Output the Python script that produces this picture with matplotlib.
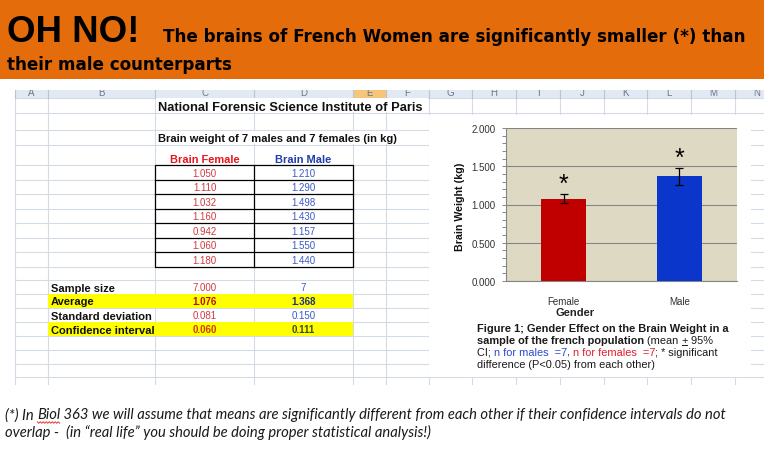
import matplotlib
matplotlib.use('Agg')
import matplotlib.pyplot as plt
from matplotlib.patches import Rectangle
from matplotlib.ticker import MultipleLocator
import numpy as np

plt.rcParams['font.family'] = ['Liberation Sans', 'DejaVu Sans']

# ---------------- data ----------------
headline_big = "OH NO!"
headline_1 = "The brains of French Women are significantly smaller (*) than"
headline_2 = "their male counterparts"
institute = "National Forensic Science Institute of Paris"
table_title = "Brain weight of 7 males and 7 females (in kg)"
col_names = ["Brain Female", "Brain Male"]
brain_female = [1.050, 1.110, 1.032, 1.160, 0.942, 1.060, 1.180]
brain_male = [1.210, 1.290, 1.498, 1.430, 1.157, 1.550, 1.440]
stat_labels = ["Sample size", "Average", "Standard deviation", "Confidence interval"]
stat_female = ["7.000", "1.076", "0.081", "0.060"]
stat_male = ["7", "1.368", "0.150", "0.111"]
categories = ["Female", "Male"]
means = [1.076, 1.368]
conf_int = [0.060, 0.111]
yticks = [0.0, 0.5, 1.0, 1.5, 2.0]
col_letters = list("ABCDEFGHIJKLMN")
footer_1 = ["(*) In ", "Biol", " 363 we will assume that means are significantly different from each other if their confidence intervals do not"]
footer_2 = "overlap -  (in \u201creal life\u201d you should be doing proper statistical analysis!)"

# ---------------- canvas ----------------
W, H = 764, 452
PX = 100 / 72.0
fig = plt.figure(figsize=(W / 100, H / 100), dpi=100)
fig.patch.set_facecolor('white')
bg = fig.add_axes([0, 0, 1, 1])
bg.set_xlim(0, W)
bg.set_ylim(H, 0)
bg.axis('off')
R = fig.canvas.get_renderer()


def tw(s, fs, **kw):
    t = bg.text(0, 100, s, fontsize=fs, **kw)
    w = t.get_window_extent(renderer=R).width
    t.remove()
    return w


def adv(s, fs, **kw):
    return tw(s + '|', fs, **kw) - tw('|', fs, **kw)


def fit_fs(s, width, **kw):
    return 10.0 * width / tw(s, 10, **kw)


def put(x, y, s, fs, **kw):
    kw.setdefault('zorder', 8)
    return bg.text(x, y, s, fontsize=fs, va='baseline', **kw)


def put_c(x, yc, s, fs, **kw):
    # place text so that its cap-height centre is at yc
    return put(x, yc + 0.358 * fs * PX, s, fs, **kw)


def put_segs(x, y, parts, fs, **common):
    spans = []
    for s, st in parts:
        kw = dict(common)
        kw.update(st)
        put(x, y, s, fs, ha='left', **kw)
        a = adv(s, fs, **kw)
        spans.append((x, x + a))
        x += a
    return spans


# ---------------- header ----------------
bg.add_patch(Rectangle((0, 0), W, 80, facecolor='#E46C0A', edgecolor='none', zorder=1))
fs_oh = fit_fs(headline_big, 132, fontweight='bold')
put(7, 42, headline_big, fs_oh, fontweight='bold', color='black')
comic = dict(family=['DejaVu Sans'], fontweight='bold', color='black')
fs_h = fit_fs(headline_1, 585, **comic)
put(163, 42, headline_1, fs_h, **comic)
put(7, 70, headline_2, fs_h, **comic)

# ---------------- spreadsheet grid ----------------
GRID = '#D5DBE6'
col_x = [15, 48, 155, 254, 353, 386, 429, 472, 516, 560, 604, 647, 691, 735]
row_y = [98.5, 114, 131, 146, 166, 181, 195, 210, 224, 239, 253, 267.5,
         281, 294.5, 308.5, 323, 337, 351, 364.5, 378]

bg.add_patch(Rectangle((15, 91), W - 15, 7.5, facecolor='#E3E9F3', edgecolor='none', zorder=2))
bg.add_patch(Rectangle((353, 91), 33, 7.5, facecolor='#F5C57A', edgecolor='none', zorder=2))
edges = col_x + [779]
for i, L in enumerate(col_letters):
    xc = (edges[i] + edges[i + 1]) / 2
    bg.text(xc, 96, L, fontsize=7, color='#6A788C', ha='center', va='baseline', zorder=3)
# the top of the column-letter row is scrolled out of view
bg.add_patch(Rectangle((0, 80), W, 11, facecolor='white', edgecolor='none', zorder=3.5))
for x in col_x:
    bg.plot([x, x], [91, 98.5], color='#B9C4D4', lw=0.8, zorder=3)
    bg.plot([x, x], [98.5, 385], color=GRID, lw=0.8, zorder=2)
for y in row_y:
    bg.plot([15, W], [y, y], color=GRID, lw=0.8, zorder=2)

# overflow text hides grid lines
bg.add_patch(Rectangle((156, 99.2), 272, 14.2, facecolor='white', edgecolor='none', zorder=3))
bg.add_patch(Rectangle((156, 131.7), 272, 13.6, facecolor='white', edgecolor='none', zorder=3))

# yellow highlighted rows
for k in (1, 3):
    y0 = row_y[12 + k]
    y1 = row_y[13 + k]
    bg.add_patch(Rectangle((48, y0), 305, y1 - y0, facecolor='#FFFF00', edgecolor='none', zorder=4))

# data table border
t_top, t_bot = row_y[4], row_y[11]
bg.add_patch(Rectangle((155, t_top), 198, t_bot - t_top, facecolor='white',
                       edgecolor='black', lw=0.9, zorder=5))
for y in row_y[5:11]:
    bg.plot([155, 353], [y, y], color='black', lw=0.9, zorder=6)
bg.plot([254, 254], [t_top, t_bot], color='black', lw=0.9, zorder=6)

# texts
fs_inst = fit_fs(institute, 264, fontweight='bold')
put(158, 111, institute, fs_inst, fontweight='bold', color='#111111')
fs_tt = fit_fs(table_title, 239, fontweight='bold')
put(158, 142.5, table_title, fs_tt, fontweight='bold', color='#111111')

cx = [204.5, 303.5]
fs_cn = fit_fs(col_names[0], 69, fontweight='bold')
put_c(cx[0], 159, col_names[0], fs_cn, fontweight='bold', color='#E8141E', ha='center')
put_c(cx[1], 159, col_names[1], fs_cn, fontweight='bold', color='#1F3CA8', ha='center')

RED = '#D03A40'
BLUE = '#3A5AC8'
for i, (f, m) in enumerate(zip(brain_female, brain_male)):
    yc = (row_y[4 + i] + row_y[5 + i]) / 2
    put_c(cx[0], yc, f"{f:.3f}", 7, color=RED, ha='center')
    put_c(cx[1], yc, f"{m:.3f}", 7, color=BLUE, ha='center')

fs_sl = fit_fs(stat_labels[3], 103, fontweight='bold')
stat_styles = [
    (dict(color=RED), dict(color=BLUE)),
    (dict(color='#B80E0E', fontweight='bold'), dict(color='#1E2E88', fontweight='bold')),
    (dict(color=RED), dict(color=BLUE)),
    (dict(color='#CC3A0A', fontweight='bold'), dict(color='#3C4A1E', fontweight='bold')),
]
for k, lab in enumerate(stat_labels):
    yc = (row_y[12 + k] + row_y[13 + k]) / 2
    put_c(51, yc, lab, fs_sl, fontweight='bold', color='#111111', ha='left')
    put_c(cx[0], yc, stat_female[k], 7, ha='center', **stat_styles[k][0])
    put_c(cx[1], yc, stat_male[k], 7, ha='center', **stat_styles[k][1])

# ---------------- chart ----------------
bg.add_patch(Rectangle((429, 116), 322, 261.5, facecolor='white', edgecolor='none', zorder=7))

ax = fig.add_axes([506 / W, 1 - 282 / H, 231 / W, 153 / H], zorder=10)
ax.set_facecolor('#DDD9C3')
xpos = np.arange(len(categories))
ax.bar(xpos, means, width=0.39, color=['#C00000', '#0A36CC'], zorder=3)
ax.errorbar(xpos, means, yerr=conf_int, fmt='none', ecolor='black',
            elinewidth=0.9, capsize=2.6, capthick=0.9, zorder=4)
for xi, m, c in zip(xpos, means, conf_int):
    ax.annotate('*', xy=(xi, m + c), xytext=(0, 2), textcoords='offset points',
                ha='center', va='baseline', fontsize=18, color='black', zorder=5)
ax.set_xlim(-0.5, 1.5)
ax.set_ylim(0, 2)
ax.set_yticks(yticks)
ax.set_yticklabels([f"{v:.3f}" for v in yticks])
ax.yaxis.set_minor_locator(MultipleLocator(0.1))
ax.set_xticks(xpos)
ax.set_xticklabels(categories)
ax.tick_params(axis='y', which='both', direction='out', length=3, width=0.7,
               color='#868686', labelsize=7, pad=4.3, labelcolor='#333333')
ax.tick_params(axis='x', length=0, pad=10.5, labelsize=7, labelcolor='#333333')
ax.grid(axis='y', which='major', color='#868686', lw=0.8)
ax.set_axisbelow(True)
for s in ('top', 'right'):
    ax.spines[s].set_visible(False)
for s in ('left', 'bottom'):
    ax.spines[s].set_color('#868686')
    ax.spines[s].set_linewidth(0.8)
ax.set_xlabel('Gender', fontsize=8, fontweight='bold', color='#222222')
ax.xaxis.label.set_va('center')
ax.xaxis.set_label_coords((575 - 506) / 231, (282 - 313) / 153)
ax.set_ylabel('Brain Weight (kg)', fontsize=7.7, fontweight='bold', color='#111111')
ax.yaxis.label.set_va('center')
ax.yaxis.set_label_coords((460 - 506) / 231, (282 - 207) / 153)

# caption
cap1 = "Figure 1; Gender Effect on the Brain Weight in a"
fs_cap = fit_fs(cap1, 250, fontweight='bold')
B = dict(fontweight='bold')
N = dict()
K = '#1a1a1a'
put_segs(477, 332, [(cap1, B)], fs_cap, color=K, zorder=9)
sp = put_segs(477, 344, [("sample of the french population", B), (" (mean ", N), ("+", N), (" 95%", N)],
              fs_cap, color=K, zorder=9)
ux0, ux1 = sp[2]
bg.plot([ux0 + 0.5, ux1 - 0.5], [345.8, 345.8], color=K, lw=0.7, zorder=9)
put_segs(477, 356, [("CI; ", N), ("n for males  =7", dict(color='#2A4AD0')), (", ", N),
                    ("n for females  =7", dict(color='#E0202A')), ("; * significant", N)],
         fs_cap, color=K, zorder=9)
put_segs(477, 368.5, [("difference (P<0.05) from each other)", N)], fs_cap, color=K, zorder=9)

# ---------------- footer ----------------
foot = dict(family=['Lato', 'DejaVu Sans'], style='italic', color='#1a1a1a')
fs_f = fit_fs(''.join(footer_1), 719, **foot)
sp = put_segs(5, 419.5, [(s, {}) for s in footer_1], fs_f, **foot)
bx0, bx1 = sp[1]
zx = np.arange(bx0, bx1 + 0.1, 1.5)
zy = 423.5 + 0.8 * np.where(np.arange(len(zx)) % 2 == 0, -1, 1)
bg.plot(zx, zy, color='#E02020', lw=0.6, zorder=9)
put(5, 437.5, footer_2, fs_f, **foot)

fig.savefig('out.png', dpi=100, facecolor='white')
